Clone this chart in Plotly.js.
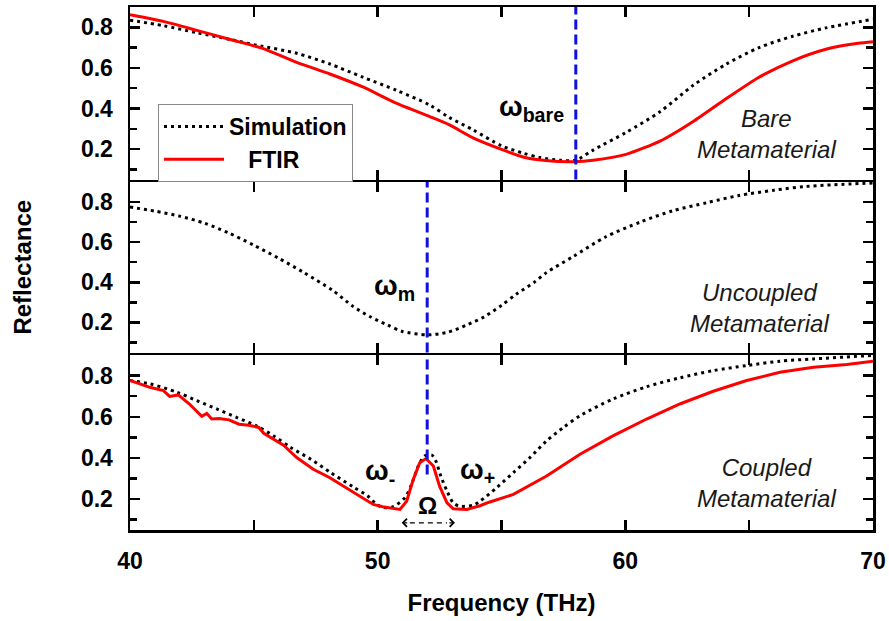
<!DOCTYPE html>
<html>
<head>
<meta charset="utf-8">
<script src="https://cdn.plot.ly/plotly-3.0.1.min.js"></script>
<style>html,body{margin:0;padding:0;background:#fff;}#chart{width:889px;height:621px;}</style>
</head>
<body>
<div id="chart"></div>
<script>
// ---- Data ----
// Top panel: Bare metamaterial
const simBareX = [40, 41.35, 42.7, 44.04, 45.1, 46.73, 48.07, 49.4, 50.77, 52.1, 52.9, 53.85, 55, 55.87, 56.55, 57.36, 58, 58.7, 60.03, 61.4, 62.74, 64.08, 65.4, 66.76, 68.1, 70];
const simBareY = [0.835, 0.808, 0.773, 0.74, 0.712, 0.672, 0.619, 0.554, 0.489, 0.417, 0.355, 0.295, 0.216, 0.18, 0.158, 0.145, 0.145, 0.195, 0.282, 0.384, 0.514, 0.619, 0.70, 0.756, 0.797, 0.84];
const ftirBareX = [40, 41.35, 42.7, 44.04, 45.38, 46.73, 48.07, 49.4, 50.77, 52.1, 52.9, 53.85, 55, 55.87, 56.9, 57.9, 58.7, 60.03, 61.4, 62.74, 64.08, 65.4, 66.76, 68.1, 69.4, 70];
const ftirBareY = [0.862, 0.829, 0.785, 0.74, 0.695, 0.627, 0.57, 0.506, 0.425, 0.36, 0.319, 0.255, 0.198, 0.161, 0.142, 0.138, 0.145, 0.174, 0.239, 0.336, 0.449, 0.554, 0.635, 0.692, 0.721, 0.729];

// Middle panel: Uncoupled metamaterial (simulation only)
const simUncX = [40, 41, 42, 43, 44, 45, 46, 47, 48.2, 49, 49.7, 50.4, 51, 52, 52.8, 53.6, 54.3, 55, 55.6, 56.3, 56.8, 57.9, 59.2, 60.6, 61.9, 63.3, 64.6, 66, 67.3, 70];
const simUncY = [0.775, 0.755, 0.73, 0.695, 0.645, 0.585, 0.52, 0.45, 0.358, 0.28, 0.228, 0.187, 0.155, 0.138, 0.15, 0.187, 0.228, 0.285, 0.341, 0.398, 0.447, 0.529, 0.626, 0.70, 0.756, 0.797, 0.833, 0.859, 0.878, 0.895];

// Bottom panel: Coupled metamaterial
const simCoupX = [40, 40.8, 41.9, 42.7, 43.5, 44.3, 45.1, 45.8, 46.5, 47.3, 48.1, 49, 49.6, 49.95, 50.2, 50.6, 51.1, 51.37, 51.64, 51.9, 52.2, 52.35, 52.55, 52.8, 53.05, 53.3, 53.85, 54.13, 54.8, 55.48, 56.15, 56.82, 57.5, 58.17, 59.5, 60.86, 62.2, 63.55, 64.9, 66.24, 67.6, 70];
const simCoupY = [0.776, 0.76, 0.719, 0.678, 0.638, 0.597, 0.556, 0.507, 0.45, 0.394, 0.329, 0.26, 0.215, 0.175, 0.16, 0.162, 0.207, 0.272, 0.361, 0.41, 0.413, 0.385, 0.312, 0.239, 0.182, 0.166, 0.17, 0.19, 0.255, 0.329, 0.402, 0.483, 0.548, 0.605, 0.686, 0.746, 0.789, 0.824, 0.849, 0.87, 0.881, 0.898];
const ftirCoupX = [40, 40.8, 41.35, 41.6, 41.95, 42.4, 42.9, 43.1, 43.3, 43.6, 44.0, 44.4, 44.8, 45.2, 45.4, 45.8, 46.2, 46.73, 47.4, 48.07, 48.75, 49.42, 49.82, 50.2, 50.9, 51.17, 51.44, 51.7, 51.95, 52.25, 52.5, 52.8, 53.05, 53.6, 54.13, 54.5, 55.48, 56.82, 58.17, 59.5, 60.86, 62.2, 63.55, 64.9, 66.24, 67.6, 68.94, 70];
const ftirCoupY = [0.776, 0.743, 0.727, 0.699, 0.706, 0.662, 0.602, 0.616, 0.589, 0.592, 0.585, 0.564, 0.559, 0.548, 0.52, 0.491, 0.462, 0.402, 0.345, 0.304, 0.255, 0.207, 0.174, 0.163, 0.15, 0.19, 0.296, 0.377, 0.397, 0.361, 0.263, 0.182, 0.153, 0.15, 0.168, 0.185, 0.223, 0.312, 0.418, 0.507, 0.589, 0.662, 0.724, 0.776, 0.816, 0.841, 0.854, 0.87];

// Ticks and labels
const xTickVals = [40, 45, 50, 55, 60, 65, 70];
const xTickText = ['40', '', '50', '', '60', '', '70'];
const yTickVals = [0.2, 0.4, 0.6, 0.8];
const yTickText = ['0.2', '0.4', '0.6', '0.8'];
const yMinorVals = [0.1, 0.3, 0.5, 0.7];
const seriesNames = ['Simulation', '\u00a0\u00a0\u00a0FTIR'];
const markerFreqs = {bare: 58, m: 52};

// ---- Styles ----
const FONT = 'Liberation Sans, Arial, sans-serif';
const simLine = {color: '#000000', width: 3, dash: '3px,4px', shape: 'spline', smoothing: 0.8};
const ftirLine = {color: '#ff0000', width: 3};

const traces = [
  {x: simBareX, y: simBareY, xaxis: 'x3', yaxis: 'y3', mode: 'lines', name: seriesNames[0], line: simLine, showlegend: true},
  {x: ftirBareX, y: ftirBareY, xaxis: 'x3', yaxis: 'y3', mode: 'lines', name: seriesNames[1], line: Object.assign({shape: 'spline', smoothing: 0.6}, ftirLine), showlegend: true},
  {x: simUncX, y: simUncY, xaxis: 'x2', yaxis: 'y2', mode: 'lines', line: simLine, showlegend: false},
  {x: simCoupX, y: simCoupY, xaxis: 'x', yaxis: 'y', mode: 'lines', line: simLine, showlegend: false},
  {x: ftirCoupX, y: ftirCoupY, xaxis: 'x', yaxis: 'y', mode: 'lines', line: Object.assign({shape: 'linear'}, ftirLine), showlegend: false},
  // empty traces so the minor-tick overlay axes are created
  {x: [], y: [], xaxis: 'x', yaxis: 'y4', mode: 'lines', showlegend: false, hoverinfo: 'skip'},
  {x: [], y: [], xaxis: 'x2', yaxis: 'y5', mode: 'lines', showlegend: false, hoverinfo: 'skip'},
  {x: [], y: [], xaxis: 'x3', yaxis: 'y6', mode: 'lines', showlegend: false, hoverinfo: 'skip'}
];

const TICKFONT = {family: FONT, size: 23, color: '#000', weight: 'bold'};
function xax(showLabels, anchor) {
  return {
    anchor: anchor, domain: [0, 1], range: [40, 70],
    tickmode: 'array', tickvals: xTickVals, ticktext: xTickText,
    showticklabels: showLabels,
    ticks: 'inside', ticklen: 10, tickwidth: 2.5, tickcolor: '#000',
    showline: true, linewidth: 2.5, linecolor: '#000', mirror: 'ticks',
    showgrid: false, zeroline: false,
    tickfont: TICKFONT,
    ticklabelstandoff: 9
  };
}
function yax(domain, anchor) {
  return {
    anchor: anchor, domain: domain, range: [0.05, 0.9],
    tickmode: 'array', tickvals: yTickVals, ticktext: yTickText,
    ticks: 'inside', ticklen: 10, tickwidth: 2.5, tickcolor: '#000',
    showline: true, linewidth: 2.5, linecolor: '#000', mirror: 'ticks',
    showgrid: false, zeroline: false,
    tickfont: TICKFONT,
    ticklabelstandoff: 10
  };
}
function yminor(over, anchor) {
  return {
    overlaying: over, anchor: anchor, range: [0.05, 0.9],
    tickmode: 'array', tickvals: yMinorVals, showticklabels: false,
    ticks: 'inside', ticklen: 7, tickwidth: 2.5, tickcolor: '#000',
    showline: true, linewidth: 2.5, linecolor: '#000', mirror: 'ticks',
    showgrid: false, zeroline: false
  };
}

const H = 523, g = 2.5 / H;
const d1 = 175 / H, d2 = 348 / H;
const TITLEFONT = {family: FONT, size: 24, color: '#000', weight: 'bold'};
const xb = xax(true, 'y');
xb.title = {text: 'Frequency (THz)', font: TITLEFONT, standoff: 21};
const yb = yax([0, d1], 'x');
const ym = yax([d1 + g, d2], 'x2');
ym.title = {text: 'Reflectance', font: TITLEFONT, standoff: 43};
const yt = yax([d2 + g, 1], 'x3');

const labFont = {family: FONT, size: 24, color: '#1a1a1a', style: 'italic'};
const wFont = {family: FONT, size: 28, color: '#000', weight: 'bold'};

const annotations = [
  {xref: 'x3', yref: 'y3', x: 56.2, y: 0.40, text: '<b>ω<sub>bare</sub></b>', showarrow: false, font: wFont},
  {xref: 'x2', yref: 'y2', x: 50.68, y: 0.375, text: '<b>ω<sub>m</sub></b>', showarrow: false, font: wFont},
  {xref: 'x', yref: 'y', x: 50.1, y: 0.33, text: '<b>ω<sub>-</sub></b>', showarrow: false, font: wFont},
  {xref: 'x', yref: 'y', x: 54.05, y: 0.335, text: '<b>ω<sub>+</sub></b>', showarrow: false, font: wFont},
  {xref: 'x', yref: 'y', x: 52.0, y: 0.17, text: '<b>Ω</b>', showarrow: false, font: {family: FONT, size: 24, color: '#000', weight: 'bold'}},
  {xref: 'x3', yref: 'y3', x: 65.68, y: 0.274, text: 'Bare<br>Metamaterial', showarrow: false, font: labFont},
  {xref: 'x2', yref: 'y2', x: 65.4, y: 0.272, text: 'Uncoupled<br>Metamaterial', showarrow: false, font: labFont},
  {xref: 'x', yref: 'y', x: 65.68, y: 0.277, text: 'Coupled<br>Metamaterial', showarrow: false, font: labFont},
  // double arrow heads for the Ω splitting
  {xref: 'x', yref: 'y', x: 50.97, y: 0.085, text: '', showarrow: true, ax: 7, ay: 0, arrowhead: 4, arrowsize: 1.2, arrowwidth: 1.3, arrowcolor: '#000', standoff: 0},
  {xref: 'x', yref: 'y', x: 53.12, y: 0.085, text: '', showarrow: true, ax: -7, ay: 0, arrowhead: 4, arrowsize: 1.2, arrowwidth: 1.3, arrowcolor: '#000', standoff: 0}
];

const blue = {color: '#1010e0', width: 3, dash: '10px,5px'};
const shapes = [
  {type: 'line', xref: 'x3', yref: 'y3 domain', x0: markerFreqs.bare, x1: markerFreqs.bare, y0: 0, y1: 1, line: blue},
  {type: 'line', xref: 'x2', yref: 'y2 domain', x0: markerFreqs.m, x1: markerFreqs.m, y0: 0, y1: 1, line: blue},
  {type: 'line', xref: 'x', yref: 'y', x0: markerFreqs.m, x1: markerFreqs.m, y0: 0.32, y1: 0.9, line: blue},
  {type: 'line', xref: 'x', yref: 'y', x0: 51.3, x1: 52.8, y0: 0.085, y1: 0.085, line: {color: '#000', width: 1.3, dash: '5px,4px'}}
];

const layout = {
  width: 889, height: 621,
  margin: {l: 130, r: 16, t: 7, b: 91},
  paper_bgcolor: '#fff', plot_bgcolor: '#fff',
  font: {family: FONT, color: '#000'},
  xaxis: xb, xaxis2: xax(false, 'y2'), xaxis3: xax(false, 'y3'),
  yaxis: yb, yaxis2: ym, yaxis3: yt,
  yaxis4: yminor('y', 'x'), yaxis5: yminor('y2', 'x2'), yaxis6: yminor('y3', 'x3'),
  showlegend: true,
  legend: {x: 0.0377, y: 0.8145, xanchor: 'left', yanchor: 'top', bgcolor: '#fff', bordercolor: '#888', borderwidth: 1,
           font: {family: FONT, size: 23, color: '#000', weight: 'bold'}, tracegroupgap: 0, itemwidth: 60},
  annotations: annotations,
  shapes: shapes
};

Plotly.newPlot('chart', traces, layout, {displayModeBar: false, staticPlot: true});
</script>
</body>
</html>
